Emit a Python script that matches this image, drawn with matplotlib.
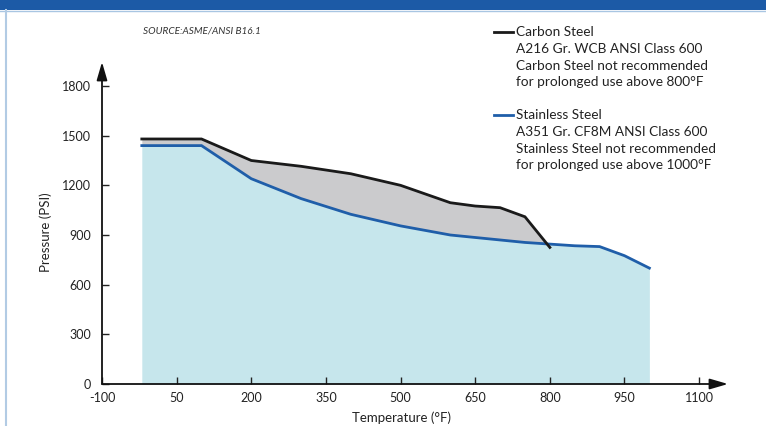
import matplotlib
matplotlib.use("Agg")
import matplotlib.pyplot as plt
from matplotlib.patches import Rectangle
from matplotlib.lines import Line2D
import numpy as np

plt.rcParams['font.family'] = ['Lato', 'DejaVu Sans']

# Data (°F, PSI)
carbon_temp = [-20, 100, 200, 300, 400, 500, 600, 650, 700, 750, 800]
carbon_psi = [1480, 1480, 1350, 1315, 1270, 1200, 1095, 1075, 1065, 1010, 825]
stainless_temp = [-20, 100, 200, 300, 400, 500, 600, 650, 700, 750, 800, 850, 900, 950, 1000]
stainless_psi = [1440, 1440, 1240, 1120, 1025, 955, 900, 885, 870, 855, 845, 835, 830, 775, 700]
x_ticks = [-100, 50, 200, 350, 500, 650, 800, 950, 1100]
y_ticks = [0, 300, 600, 900, 1200, 1500, 1800]

W, H = 766, 426
fig = plt.figure(figsize=(W / 100, H / 100), dpi=100)
fig.patch.set_facecolor('white')

# banner and border
fig.add_artist(Rectangle((0, 1 - 10 / H), 1, 10 / H, transform=fig.transFigure,
                         facecolor='#1c5aa6', edgecolor='none'))
fig.add_artist(Line2D([0, 1], [1 - 11 / H, 1 - 11 / H], transform=fig.transFigure,
                      color='#a9c6e2', lw=1))
fig.add_artist(Line2D([5.5 / W, 5.5 / W], [0, 1 - 10 / H], transform=fig.transFigure,
                      color='#b2cbe4', lw=1.5))

left, right, bottom, top = 102, 728, 384, 62
ax = fig.add_axes([left / W, (H - bottom) / H, (right - left) / W, (bottom - top) / H])
ax.set_xlim(-100, 1158)
ax.set_ylim(0, 1945)
for s in ax.spines.values():
    s.set_visible(False)

# fills
st_interp_on_c = np.interp(carbon_temp, stainless_temp, stainless_psi)
ax.fill_between(stainless_temp, 0, stainless_psi, color='#c6e6ec', lw=0, zorder=1)
ax.fill_between(carbon_temp, st_interp_on_c, carbon_psi, color='#cbcbcd', lw=0, zorder=1)

ax.plot(carbon_temp, carbon_psi, color='#1a1a1a', lw=2.0, zorder=3, solid_joinstyle='miter')
ax.plot(stainless_temp, stainless_psi, color='#1f5ea9', lw=2.0, zorder=2, solid_joinstyle='miter')

# axes with arrows
ap = dict(arrowstyle='-|>,head_length=1.1,head_width=0.32', lw=1.3, color='#111111',
          shrinkA=0, shrinkB=0)
ax.annotate('', xy=(1, 0), xytext=(0, 0), xycoords='axes fraction', arrowprops=ap,
            annotation_clip=False, zorder=5)
ax.annotate('', xy=(0, 1), xytext=(0, 0), xycoords='axes fraction', arrowprops=ap,
            annotation_clip=False, zorder=5)

ax.set_xticks(x_ticks)
ax.set_xticklabels([str(v) for v in x_ticks])
ax.set_yticks(y_ticks)
ax.set_yticklabels([str(v) for v in y_ticks])
ax.tick_params(axis='both', direction='in', length=5, width=1, color='#222222',
               labelsize=9, labelcolor='#222222')
ax.tick_params(axis='x', pad=6)
ax.tick_params(axis='y', pad=8)

fig.text(46 / W, 1 - 232 / H, 'Pressure (PSI)', rotation=90, ha='center', va='center',
         fontsize=9.5, color='#222222')
fig.text(401 / W, 1.5 / H, 'Temperature (°F)', ha='center', va='bottom',
         fontsize=9.5, color='#222222')
fig.text(143 / W, 1 - 31 / H, 'SOURCE:ASME/ANSI B16.1', ha='left', va='center',
         fontsize=7.2, style='italic', color='#333333')

# legend block
legend_blocks = [
    ('#1a1a1a', 32, ['Carbon Steel', 'A216 Gr. WCB ANSI Class 600',
                     'Carbon Steel not recommended', 'for prolonged use above 800°F']),
    ('#1f5ea9', 115, ['Stainless Steel', 'A351 Gr. CF8M ANSI Class 600',
                      'Stainless Steel not recommended', 'for prolonged use above 1000°F']),
]
for color, y0, lines in legend_blocks:
    fig.add_artist(Line2D([494 / W, 513 / W], [1 - y0 / H, 1 - y0 / H],
                          transform=fig.transFigure, color=color, lw=2.0))
    for i, t in enumerate(lines):
        fig.text(516 / W, 1 - (y0 + i * 16.8) / H, t, ha='left', va='center',
                 fontsize=9.8, color='#222222')

fig.savefig('out.png', dpi=100)
